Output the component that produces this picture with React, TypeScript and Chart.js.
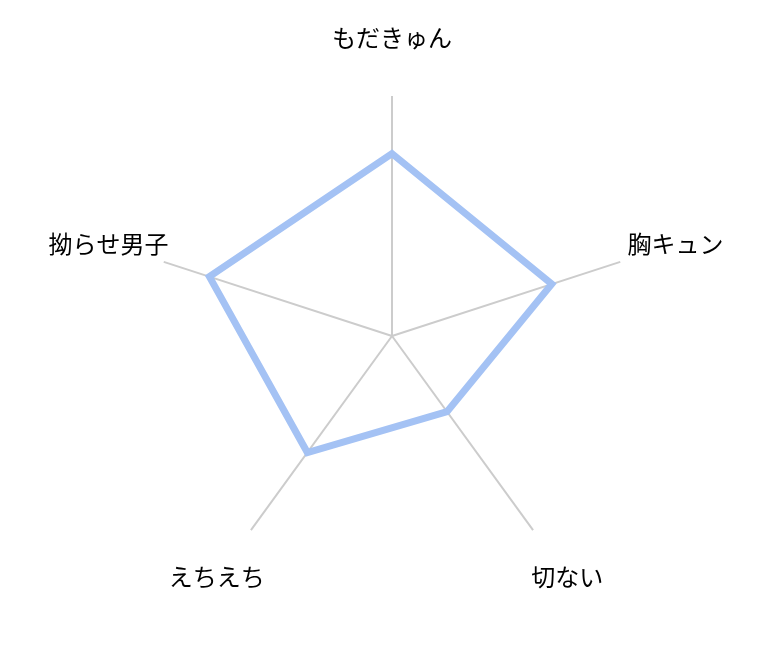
import React, { useEffect, useRef } from 'react';
import { Chart, ChartConfiguration, Plugin, registerables } from 'chart.js';

Chart.register(...registerables);

const categories = ['もだきゅん', '胸キュン', '切ない', 'えちえち', '拗らせ男子'];
const scores = [76, 70, 39, 60, 80];

// labels are drawn centred on a point a bit outside the end of each spoke
const labelPlugin: Plugin = {
  id: 'spokeLabels',
  afterDraw(chart) {
    const scale: any = chart.scales.r;
    const ctx = chart.ctx;
    ctx.save();
    ctx.font = '24px "Noto Sans CJK JP", "Noto Sans", sans-serif';
    ctx.fillStyle = '#000000';
    ctx.textAlign = 'center';
    ctx.textBaseline = 'middle';
    categories.forEach((label, i) => {
      const pos = scale.getPointPosition(i, scale.drawingArea + 58);
      ctx.fillText(label, pos.x, pos.y);
    });
    ctx.restore();
  }
};

const App: React.FC = () => {
  const chartRef = useRef<HTMLCanvasElement | null>(null);
  const chartInstance = useRef<Chart | null>(null);

  useEffect(() => {
    if (chartRef.current) {
      const ctx = chartRef.current.getContext('2d');
      if (ctx) {
        if (chartInstance.current) {
          chartInstance.current.destroy();
        }

        const config: ChartConfiguration = {
          type: 'radar',
          data: {
            labels: categories,
            datasets: [{
              label: 'score',
              data: scores,
              fill: false,
              borderColor: '#a4c2f4',
              borderWidth: 7,
              pointRadius: 0,
              pointHoverRadius: 0
            }]
          },
          options: {
            animation: false,
            responsive: true,
            maintainAspectRatio: false,
            layout: {
              padding: { left: 144, right: 142, top: 88, bottom: 87 }
            },
            plugins: {
              legend: { display: false },
              tooltip: { enabled: false }
            },
            scales: {
              r: {
                min: 0,
                max: 100,
                ticks: { display: false },
                grid: { display: false },
                angleLines: { color: '#cccccc', lineWidth: 2 },
                pointLabels: { display: false }
              }
            }
          },
          plugins: [labelPlugin]
        };

        chartInstance.current = new Chart(ctx, config);
      }
    }

    return () => {
      if (chartInstance.current) {
        chartInstance.current.destroy();
        chartInstance.current = null;
      }
    };
  }, []);

  return (
    <div style={{ position: 'relative', width: 766, height: 655 }}>
      <canvas ref={chartRef} />
    </div>
  );
};

export default App;
